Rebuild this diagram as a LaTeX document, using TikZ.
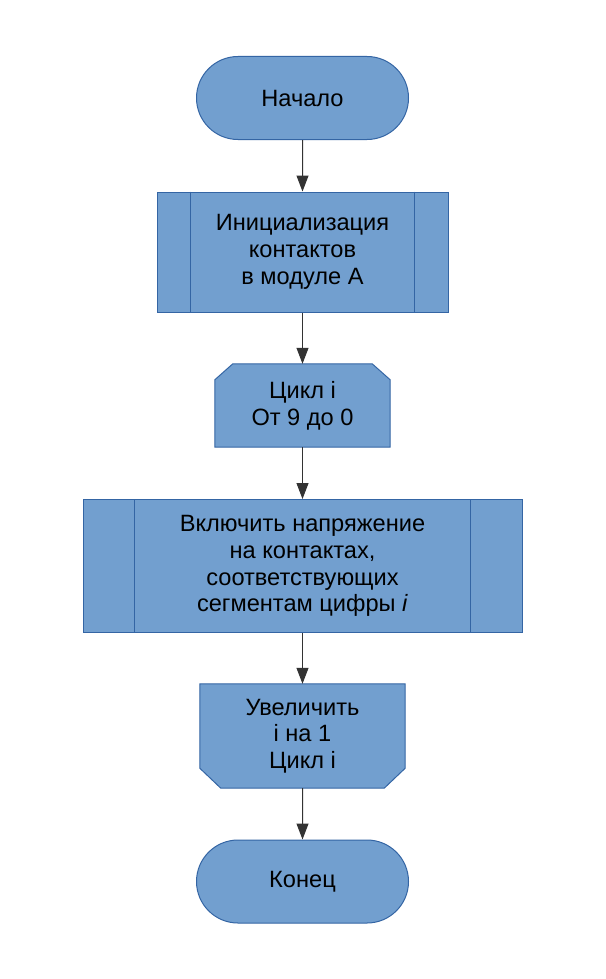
\documentclass[tikz,border=0pt]{standalone}
\usepackage{fontspec}
\setmainfont{Liberation Sans}
\usetikzlibrary{shapes.misc,arrows.meta,backgrounds}
\definecolor{boxfill}{HTML}{729FCF}
\definecolor{boxline}{HTML}{3465A4}
\definecolor{arrowline}{HTML}{333333}
\begin{document}
\begin{tikzpicture}[x=1pt,y=-1pt,
  every node/.style={font=\fontsize{23.6}{26.7}\selectfont, align=center, inner sep=0pt, text=black},
  base/.style={draw=boxline, fill=boxfill, line width=1pt},
  term/.style={base, rounded rectangle, minimum width=212pt, minimum height=83pt},
  procbox/.style={base, rectangle},
  slot/.style={rectangle},
  inner/.style={draw=boxline, line width=1pt},
  flow/.style={draw=arrowline, line width=1pt, -{Triangle[length=16pt,width=12pt]}}
]
\useasboundingbox (0,0) rectangle (605,979);

\node[term] (start) at (302.5,98) {Начало};

\node[procbox, minimum width=291pt, minimum height=120pt] (init) at (302.5,252)
  {Инициализация\\контактов\\в модуле А};
\draw[inner] ([xshift=34pt]init.north west) -- ([xshift=34pt]init.south west);
\draw[inner] ([xshift=-34pt]init.north east) -- ([xshift=-34pt]init.south east);

\node[slot, minimum width=175pt, minimum height=83pt] (loop) at (302.5,405.5)
  {Цикл i\\От 9 до 0};

\node[procbox, minimum width=439pt, minimum height=133pt] (proc) at (302.5,566)
  {Включить напряжение\\на контактах,\\соответствующих\\сегментам цифры \textit{i}};
\draw[inner] ([xshift=52pt]proc.north west) -- ([xshift=52pt]proc.south west);
\draw[inner] ([xshift=-52pt]proc.north east) -- ([xshift=-52pt]proc.south east);

\node[slot, minimum width=205pt, minimum height=104pt] (lend) at (302.5,736)
  {Увеличить\\i на 1\\Цикл i};

\node[term] (stop) at (302.5,881.5) {Конец};

\begin{scope}[on background layer]
  \fill[white] (0,0) rectangle (605,979);
  \path[base] (loop.south west) -- ([yshift=-16pt]loop.north west)
    -- ([xshift=18pt]loop.north west) -- ([xshift=-18pt]loop.north east)
    -- ([yshift=-16pt]loop.north east) -- (loop.south east) -- cycle;
  \path[base] (lend.north west) -- ([yshift=20pt]lend.south west)
    -- ([xshift=21pt]lend.south west) -- ([xshift=-21pt]lend.south east)
    -- ([yshift=20pt]lend.south east) -- (lend.north east) -- cycle;
\end{scope}

\draw[flow] (start) -- (init);
\draw[flow] (init) -- (loop);
\draw[flow] (loop) -- (proc);
\draw[flow] (proc) -- (lend);
\draw[flow] (lend) -- (stop);
\end{tikzpicture}
\end{document}
